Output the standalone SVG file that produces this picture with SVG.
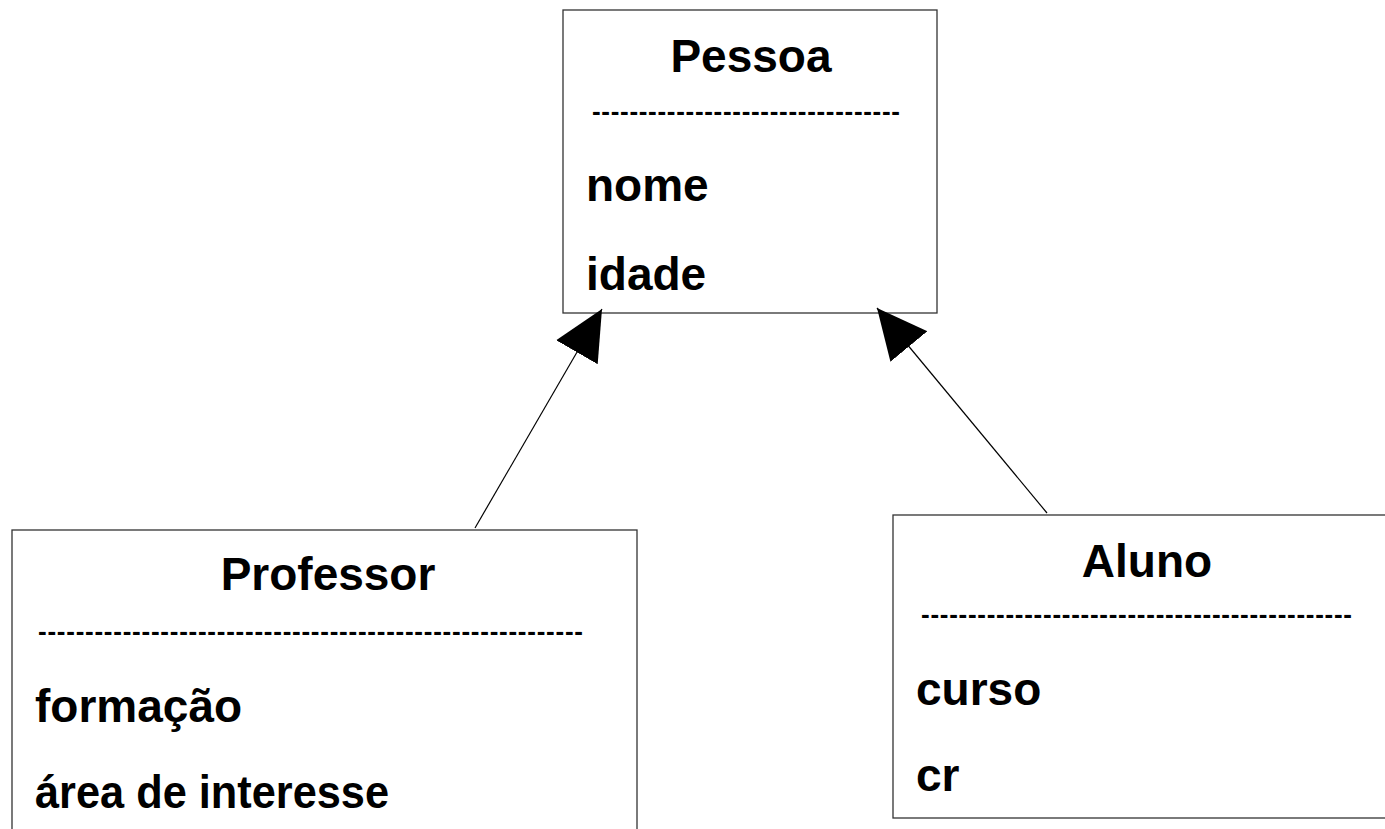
<svg xmlns="http://www.w3.org/2000/svg" width="1385" height="829" viewBox="0 0 1385 829">
<style>
.box{fill:#fff;stroke:#333;stroke-width:1.3}
.t{font-family:"Liberation Sans",Arial,sans-serif;font-weight:bold;font-size:46px;fill:#000}
.c{text-anchor:middle}
.d{font-family:"Liberation Sans",Arial,sans-serif;font-weight:bold;font-size:26px;fill:#000}
.ln{stroke:#000;stroke-width:1.2;fill:none}
</style>
<defs>
<marker id="tri" markerUnits="userSpaceOnUse" viewBox="0 -25 51 50" refX="50" refY="0" markerWidth="51" markerHeight="50" orient="auto">
<path d="M50,0 L0,-24 L0,24 z" fill="#000"/>
</marker>
</defs>
<rect width="1385" height="829" fill="#fff"/>
<g id="pessoa">
<rect class="box" x="563" y="10" width="374" height="303"/>
<text class="t c" x="751" y="72">Pessoa</text>
<text class="d" x="592" y="120" textLength="308" lengthAdjust="spacing">---------------------------------</text>
<text class="t" x="586" y="201">nome</text>
<text class="t" x="586" y="290">idade</text>
</g>
<g id="professor">
<rect class="box" x="12" y="530" width="625" height="330"/>
<text class="t c" x="328" y="590">Professor</text>
<text class="d" x="38" y="640" textLength="545" lengthAdjust="spacing">----------------------------------------------------------</text>
<text class="t" x="35" y="722">formação</text>
<text class="t" x="35" y="808" textLength="354" lengthAdjust="spacingAndGlyphs">área de interesse</text>
</g>
<g id="aluno">
<rect class="box" x="893" y="515" width="520" height="303"/>
<text class="t c" x="1147" y="577">Aluno</text>
<text class="d" x="921" y="623" textLength="431" lengthAdjust="spacing">----------------------------------------------</text>
<text class="t" x="916" y="705">curso</text>
<text class="t" x="916" y="791">cr</text>
</g>
<g id="connectors">
<line class="ln" x1="475" y1="528" x2="602" y2="309" marker-end="url(#tri)"/>
<line class="ln" x1="1047" y1="513" x2="877" y2="308" marker-end="url(#tri)"/>
</g>
</svg>
